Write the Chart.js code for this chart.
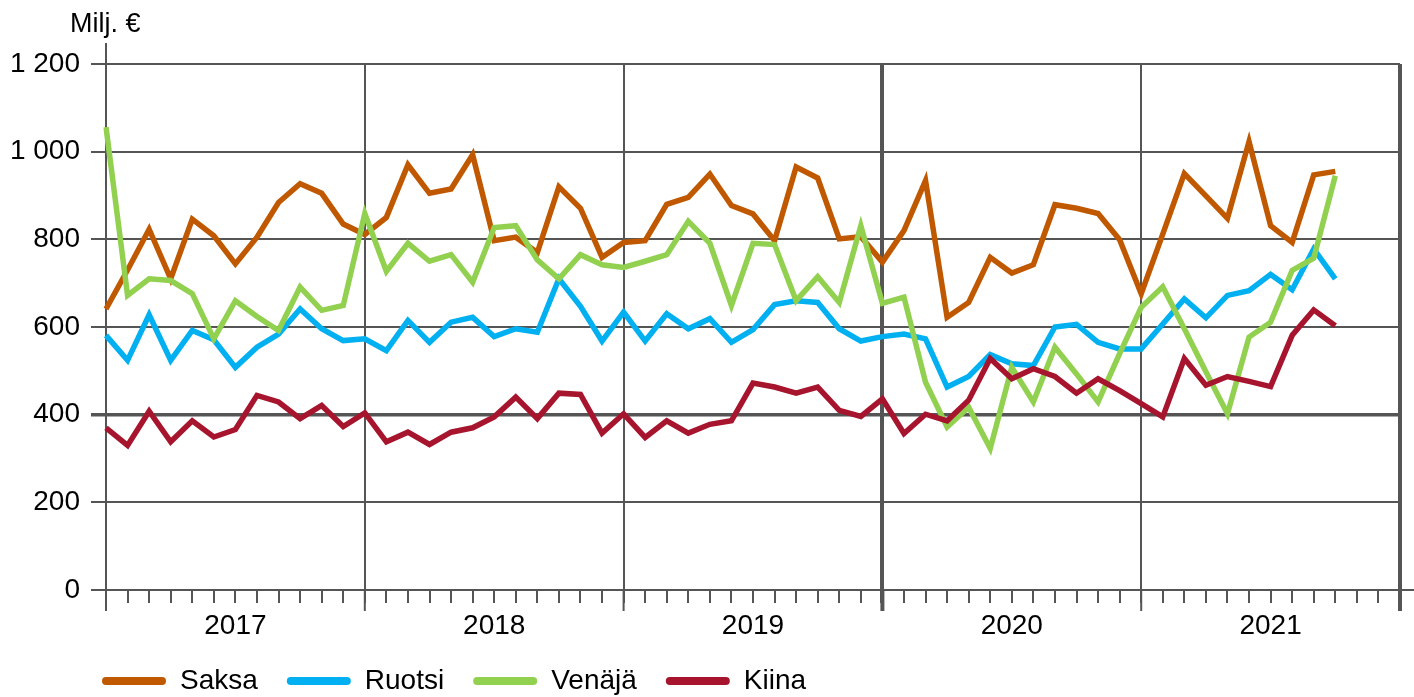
<!DOCTYPE html>
<html>
<head>
<meta charset="utf-8">
<title>Milj. €</title>
<script src="https://cdn.jsdelivr.net/npm/chart.js@4.4.0/dist/chart.umd.min.js"></script>
<style>
  html, body { margin: 0; padding: 0; background: #fff; }
  #wrap { width: 1414px; height: 697px; }
</style>
</head>
<body>
<div id="wrap"><canvas id="chart" width="1414" height="697"></canvas></div>
<script>
// Years on the x axis (12 months each)
const years = ['2017', '2018', '2019', '2020', '2021'];

// Monthly values, Milj. €, Jan 2017 - Oct 2021
const saksa = [641, 730, 823, 710, 846, 808, 744, 805, 884, 927, 905, 835,
               811, 850, 970, 905, 915, 993, 797, 805, 770, 920, 871, 759,
               793, 797, 880, 896, 949, 877, 858, 797, 965, 940, 801, 806,
               748, 820, 934, 622, 656, 759, 723, 742, 879, 871, 859, 799,
               676, 812, 950, 899, 848, 1023, 831, 793, 947, 955];
const ruotsi = [581, 524, 628, 524, 592, 571, 508, 554, 584, 641, 596, 569,
                573, 546, 615, 565, 611, 622, 578, 596, 588, 710, 647, 568,
                634, 568, 630, 596, 619, 565, 594, 651, 660, 656, 596, 568,
                578, 584, 573, 463, 487, 537, 516, 512, 600, 606, 565, 550,
                550, 607, 664, 621, 672, 683, 720, 685, 778, 710];
const venaja = [1056, 672, 710, 706, 676, 573, 660, 624, 592, 691, 638, 649,
                859, 727, 791, 750, 765, 702, 827, 831, 753, 710, 765, 742,
                736, 750, 765, 841, 791, 649, 791, 788, 660, 715, 656, 831,
                654, 668, 474, 372, 417, 323, 508, 429, 554, 493, 429, 539,
                645, 692, 596, 498, 402, 577, 611, 729, 757, 945];
const kiina = [370, 330, 408, 338, 386, 349, 366, 444, 429, 391, 421, 373,
               404, 338, 360, 332, 360, 370, 395, 440, 391, 449, 446, 358,
               402, 348, 386, 358, 378, 386, 472, 463, 449, 463, 410, 396,
               436, 357, 401, 386, 433, 528, 482, 505, 487, 449, 482, 455,
               425, 395, 528, 467, 487, 476, 464, 581, 639, 603];

const seriesNames = ['Saksa', 'Ruotsi', 'Venäjä', 'Kiina'];
const seriesColors = ['#C05800', '#00B0F0', '#92D050', '#A6142D'];
const seriesData = [saksa, ruotsi, venaja, kiina];

const axisColor = '#555555';

// Month categories, plus January of the next year so the axis closes on a year line
const months = [];
years.forEach(y => {
    for (let m = 1; m <= 12; m++) months.push(y + '-' + String(m).padStart(2, '0'));
});
months.push((+years[years.length - 1] + 1) + '-01');

// heavier lines at the start of 2020 and at the right edge, as in the original
function yearLineWidth(index) {
    return (index === 36 || index === months.length - 1) ? 4 : 2;
}

function formatThousands(v) {
    if (v >= 1000) return Math.floor(v / 1000) + ' ' + String(v % 1000).padStart(3, '0');
    return String(v);
}

// title and legend start near the y axis instead of the canvas edge
const boxShift = {
    id: 'boxShift',
    afterLayout(chart) {
        const left = chart.chartArea.left;
        const lg = chart.legend;
        const dl = (left - 4 - lg.options.labels.padding) - lg.left;
        lg.left += dl;
        lg.right += dl;
        const tb = chart.titleBlock;
        const dt = (left - 36) - tb.left;
        tb.left += dt;
        tb.right += dt;
    }
};

// small extras the scales can't do: y axis stub above the plot,
// x axis running to the edge and longer ticks at year boundaries
const axisExtras = {
    id: 'axisExtras',
    afterDraw(chart) {
        const { ctx, chartArea } = chart;
        const x = chart.scales.x;
        ctx.save();
        ctx.strokeStyle = axisColor;
        ctx.lineWidth = 2;
        ctx.beginPath();
        ctx.moveTo(chartArea.left, chartArea.top);
        ctx.lineTo(chartArea.left, chartArea.top - 21);
        ctx.moveTo(chartArea.right, chartArea.bottom);
        ctx.lineTo(chart.width, chartArea.bottom);
        ctx.stroke();
        months.forEach((m, i) => {
            if (i % 12 !== 0) return;
            const px = x.getPixelForValue(i);
            ctx.lineWidth = yearLineWidth(i);
            ctx.beginPath();
            ctx.moveTo(px, chartArea.bottom);
            ctx.lineTo(px, chartArea.bottom + 21);
            ctx.stroke();
        });
        ctx.restore();
    }
};

Chart.defaults.font.family = "'Liberation Sans', Arial, sans-serif";
Chart.defaults.color = '#000';

new Chart(document.getElementById('chart'), {
    type: 'line',
    data: {
        labels: months,
        datasets: seriesNames.map((name, i) => ({
            label: name,
            data: seriesData[i],
            borderColor: seriesColors[i],
            backgroundColor: seriesColors[i],
            borderWidth: 5.5,
            pointRadius: 0,
            fill: false,
            tension: 0,
            order: seriesNames.length - 1 - i // later series on top
        }))
    },
    options: {
        responsive: false,
        animation: false,
        devicePixelRatio: 1,
        layout: { padding: { left: 0, right: 14, top: 0, bottom: -8 } },
        scales: {
            x: {
                type: 'category',
                offset: false,
                afterFit: scale => { scale.height = 48; },
                grid: {
                    color: ctx => (ctx.index % 12 === 0 ? axisColor : 'rgba(0,0,0,0)'),
                    lineWidth: ctx => yearLineWidth(ctx.index),
                    tickColor: axisColor,
                    tickLength: 13
                },
                border: { color: axisColor, width: 2 },
                ticks: {
                    autoSkip: false,
                    maxRotation: 0,
                    padding: 6,
                    font: { size: 28 },
                    callback: (val, index) => (index % 12 === 6 ? years[Math.floor(index / 12)] : '')
                }
            },
            y: {
                min: 0,
                max: 1200,
                afterFit: scale => { scale.width = 106; },
                grid: {
                    color: axisColor,
                    lineWidth: ctx => (ctx.tick && ctx.tick.value === 400 ? 3.5 : 2),
                    tickColor: axisColor,
                    tickLength: 15
                },
                border: { color: axisColor, width: 2 },
                ticks: {
                    stepSize: 200,
                    padding: 11,
                    font: { size: 28 },
                    callback: v => formatThousands(v)
                }
            }
        },
        plugins: {
            title: {
                display: true,
                text: 'Milj. €',
                align: 'start',
                color: '#000',
                font: { size: 27, weight: 'normal' },
                padding: { top: 8, bottom: 23.6 }
            },
            legend: {
                position: 'bottom',
                align: 'start',
                labels: {
                    boxWidth: 64,
                    boxHeight: 8,
                    padding: 29,
                    font: { size: 28 },
                    color: '#000',
                    generateLabels: chart => chart.data.datasets.map((ds, i) => ({
                        text: ds.label,
                        fillStyle: ds.borderColor,
                        strokeStyle: ds.borderColor,
                        lineWidth: 0,
                        borderRadius: 4,
                        datasetIndex: i,
                        hidden: false
                    }))
                }
            },
            tooltip: { enabled: false }
        }
    },
    plugins: [boxShift, axisExtras]
});
</script>
</body>
</html>
